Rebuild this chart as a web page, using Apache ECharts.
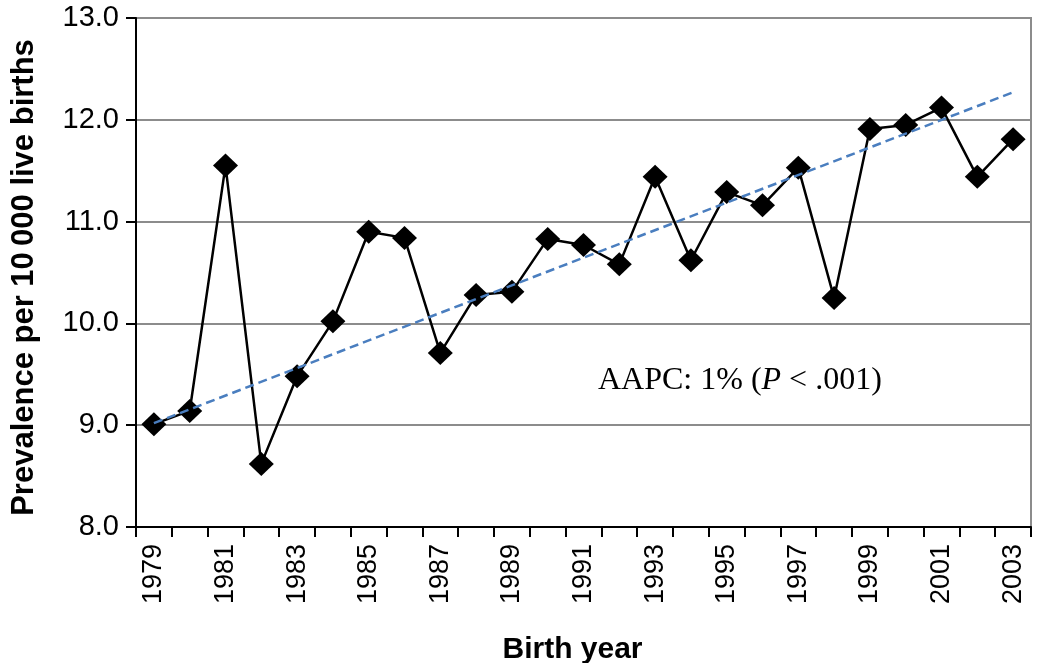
<!DOCTYPE html>
<html>
<head>
<meta charset="utf-8">
<script src="https://cdn.jsdelivr.net/npm/echarts@6/dist/echarts.min.js"></script>
<style>
  html, body { margin: 0; padding: 0; background: #fff; }
  #chart { width: 1041px; height: 663px; }
</style>
</head>
<body>
<div id="chart"></div>
<script>
var years = ['1979', '1980', '1981', '1982', '1983', '1984', '1985', '1986', '1987', '1988',
             '1989', '1990', '1991', '1992', '1993', '1994', '1995', '1996', '1997', '1998',
             '1999', '2000', '2001', '2002', '2003'];
var prevalence = [9.01, 9.14, 11.55, 8.62, 9.48, 10.02, 10.90, 10.84, 9.71, 10.28,
                  10.31, 10.83, 10.77, 10.58, 11.44, 10.62, 11.29, 11.16, 11.53, 10.25,
                  11.91, 11.95, 12.12, 11.44, 11.81];
// fitted trend (AAPC), start and end points
var trendStart = 9.02;
var trendEnd = 12.27;

var chart = echarts.init(document.getElementById('chart'));

var option = {
    animation: false,
    grid: {
        left: 136,
        right: 10,
        top: 18,
        bottom: 136,
        containLabel: false,
        outerBoundsMode: 'none',
        show: true,
        borderColor: '#8c8c8c',
        borderWidth: 2
    },
    xAxis: {
        type: 'category',
        data: years,
        boundaryGap: true,
        name: 'Birth year',
        nameLocation: 'middle',
        nameGap: 108,
        nameTextStyle: {
            fontFamily: 'Liberation Sans', fontWeight: 'bold', fontSize: 30, color: '#000',
            padding: [0, 22, 0, 0]
        },
        axisLine: { lineStyle: { color: '#000', width: 2 } },
        axisTick: { show: true, length: 10, interval: 0, lineStyle: { color: '#000', width: 2 } },
        axisLabel: {
            interval: 1,
            rotate: 90,
            margin: 17,
            fontFamily: 'Liberation Sans',
            fontSize: 27,
            color: '#000'
        },
        splitLine: { show: false }
    },
    yAxis: {
        type: 'value',
        min: 8,
        max: 13,
        interval: 1,
        name: 'Prevalence per 10\u2009000 live births',
        nameLocation: 'middle',
        nameGap: 96,
        nameTextStyle: {
            fontFamily: 'Liberation Sans', fontWeight: 'bold', fontSize: 31, color: '#000',
            padding: [0, 10, 0, 0]
        },
        axisLine: { show: true, lineStyle: { color: '#000', width: 2 } },
        axisTick: { show: true, length: 10, lineStyle: { color: '#000', width: 2 } },
        axisLabel: {
            margin: 17,
            fontFamily: 'Liberation Sans',
            fontSize: 29,
            color: '#000',
            formatter: function (v) { return v.toFixed(1); }
        },
        splitLine: { show: true, lineStyle: { color: '#8c8c8c', width: 2 } }
    },
    series: [
        {
            name: 'Prevalence',
            type: 'line',
            data: prevalence,
            symbol: 'diamond',
            symbolSize: [25, 24],
            showAllSymbol: true,
            itemStyle: { color: '#000' },
            lineStyle: { color: '#000', width: 2.5 },
            z: 3
        },
        {
            name: 'Trend',
            type: 'line',
            data: [[0, trendStart], [years.length - 1, trendEnd]],
            symbol: 'none',
            lineStyle: { color: '#4a7ebf', width: 2.5, type: [9, 5] },
            z: 4
        }
    ],
    graphic: [
        {
            type: 'text',
            left: 598,
            top: 365,
            style: {
                text: 'AAPC: 1% ({i|P} < .001)',
                fontFamily: 'Liberation Serif',
                fontSize: 32,
                fill: '#000',
                rich: {
                    i: { fontFamily: 'Liberation Serif', fontSize: 32, fontStyle: 'italic', fill: '#000' }
                }
            }
        }
    ]
};

chart.setOption(option);
</script>
</body>
</html>
